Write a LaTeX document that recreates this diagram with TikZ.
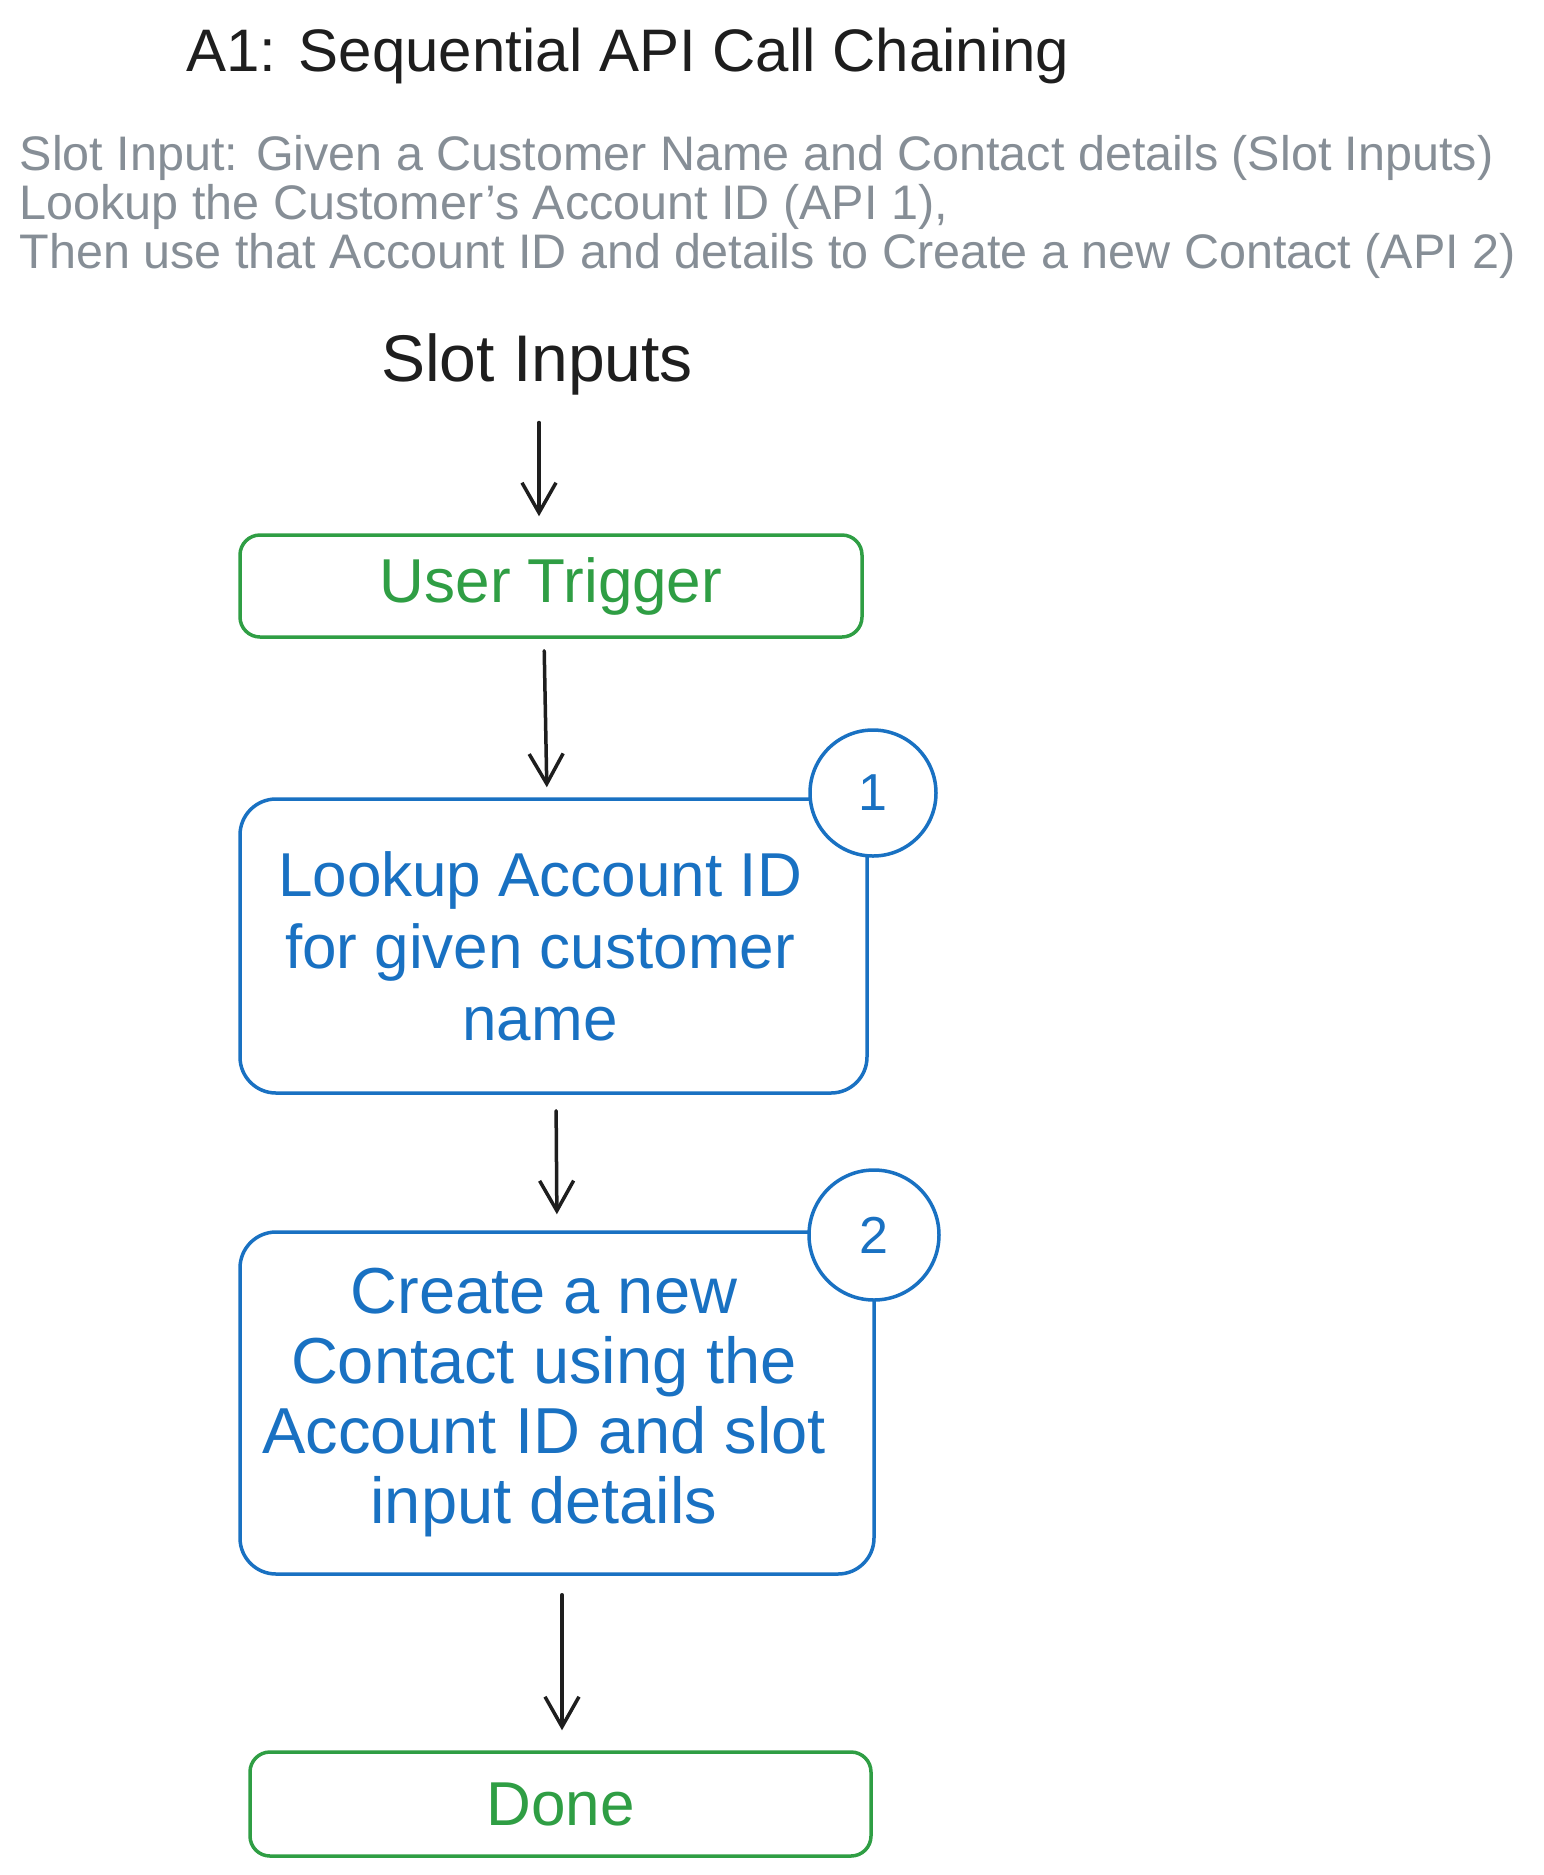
\documentclass[tikz,border=0pt]{standalone}
\usepackage{fontspec}
\setmainfont{Liberation Sans}
\usetikzlibrary{arrows.meta}
\definecolor{ink}{HTML}{1E1E1E}
\definecolor{grn}{HTML}{2F9E44}
\definecolor{blu}{HTML}{1971C2}
\definecolor{gry}{HTML}{868E96}
\begin{document}
\begin{tikzpicture}[x=1pt,y=-1pt,line width=3.5pt,
  arr/.style={draw=ink,line cap=round,-{Straight Barb[length=30pt,width=34pt,line width=3.5pt]}},
  greenbox/.style={draw=grn,rounded corners=20pt,text=grn,font=\fontsize{62}{72}\selectfont},
  bluebox/.style={draw=blu,rounded corners=36pt},
  bluetext/.style={text=blu,align=center,inner sep=0pt},
  badge/.style={circle,draw=blu,fill=white,inner sep=0pt,text=blu,font=\fontsize{52}{60}\selectfont},
  graytext/.style={text=gry,anchor=base west,inner sep=0pt,font=\fontsize{48.5}{50}\selectfont}
]
\fill[white] (0,0) rectangle (1543,1875);
\useasboundingbox (0,0) rectangle (1543,1875);

\node[text=ink,font=\fontsize{60}{70}\selectfont] (title) at (628,56) {A1: Sequential API Call Chaining};

\node[graytext] (g1) at (18,170) {Slot Input: Given a Customer Name and Contact details (Slot Inputs)};
\node[graytext] (g2) at (18,219) {Lookup the Customer's Account ID (API 1),};
\node[graytext] (g3) at (18,268) {Then use that Account ID and details to Create a new Contact (API 2)};

\node[text=ink,inner sep=0pt,font=\fontsize{66}{72}\selectfont] (slot) at (537,364) {Slot Inputs};

\node[greenbox,minimum width=622pt,minimum height=102pt] (trig) at (551,586) {User Trigger};

\node[bluebox,minimum width=627pt,minimum height=294pt] (b1) at (553.5,946) {};
\node[bluetext,font=\fontsize{62}{72}\selectfont] (t1) at (540,946) {Lookup Account ID\\for given customer\\name};
\node[badge,minimum size=126pt] (c1) at (873,793) {1};

\node[bluebox,minimum width=634pt,minimum height=342pt] (b2) at (557,1403) {};
\node[bluetext,font=\fontsize{65}{70}\selectfont] (t2) at (544,1403) {Create a new\\Contact using the\\Account ID and slot\\input details};
\node[badge,minimum size=130pt] (c2) at (874,1235) {2};

\node[greenbox,minimum width=621pt,minimum height=104pt] (done) at (560.5,1804) {Done};

\draw[arr,shorten <=26pt,shorten >=17pt] ([xshift=2pt]slot.south) -- ([xshift=-12pt]trig.north);
\draw[arr,shorten <=12pt,shorten >=10pt] ([xshift=-7pt]trig.south) -- ([xshift=-6.5pt]b1.north);
\draw[arr,shorten <=16pt,shorten >=16pt] ([xshift=2.5pt]b1.south) -- (b2.north);
\draw[arr,shorten <=19pt,shorten >=20pt] ([xshift=5pt]b2.south) -- ([xshift=1.5pt]done.north);
\end{tikzpicture}
\end{document}
